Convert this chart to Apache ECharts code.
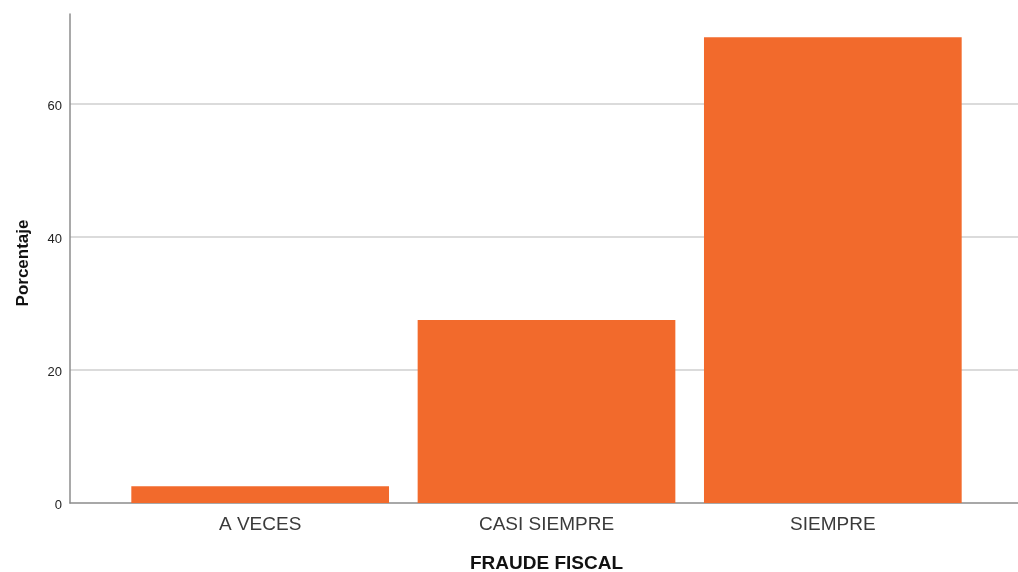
<!DOCTYPE html>
<html>
<head>
<meta charset="utf-8">
<script src="https://cdn.jsdelivr.net/npm/echarts@6/dist/echarts.min.js"></script>
<style>html,body{margin:0;padding:0;background:#fff}#c{width:1018px;height:572px}</style>
</head>
<body>
<div id="c"></div>
<script>
const categories = ['A VECES', 'CASI SIEMPRE', 'SIEMPRE'];
const porcentaje = [2.5, 27.5, 70.0];
const yMin = 0, yMax = 73.5, yStep = 20;
const xTitle = 'FRAUDE FISCAL';
const yTitle = 'Porcentaje';

const chart = echarts.init(document.getElementById('c'), null, {renderer: 'canvas'});
const font = 'Arial, "Liberation Sans", sans-serif';
chart.setOption({
  animation: false,
  grid: [
    {left: 70, right: 0, top: 14, bottom: 69, outerBoundsMode: 'none', containLabel: false},
    {left: 117, right: 42, top: 14, bottom: 69, outerBoundsMode: 'none', containLabel: false}
  ],
  graphic: [{
    type: 'text', x: 23, y: 263, rotation: Math.PI / 2,
    style: {text: yTitle, fontFamily: font, fontSize: 17, fontWeight: 'bold', fill: '#111',
            align: 'center', verticalAlign: 'middle'}
  }],
  xAxis: [
    {gridIndex: 0, type: 'value', min: 0, max: 1, axisLine: {show: true, lineStyle: {color: '#8c8c8c', width: 1.5}},
     axisTick: {show: false}, axisLabel: {show: false}, splitLine: {show: false}},
    {gridIndex: 1, type: 'category', data: categories, boundaryGap: true,
     axisLine: {show: false}, axisTick: {show: false},
     axisLabel: {margin: 12, fontFamily: font, fontSize: 19, color: '#3a3a3a'},
     name: xTitle, nameLocation: 'middle', nameGap: 51,
     nameTextStyle: {fontFamily: font, fontSize: 19, fontWeight: 'bold', color: '#111'}}
  ],
  yAxis: [
    {gridIndex: 0, type: 'value', min: yMin, max: yMax, interval: yStep,
     axisLine: {show: true, lineStyle: {color: '#8c8c8c', width: 1.5}}, axisTick: {show: false},
     axisLabel: {margin: 8, fontFamily: font, fontSize: 13, color: '#222', showMaxLabel: false,
       formatter: v => (v % yStep === 0 ? '{t|' + v + '}' : ''),
       rich: {t: {fontFamily: font, fontSize: 13, color: '#222', padding: [5, 0, 0, 0]}}},
     splitLine: {show: true, showMaxLine: false, showMinLine: false, lineStyle: {color: '#cfcfcf', width: 1.5}}},
    {gridIndex: 1, type: 'value', min: yMin, max: yMax, interval: yStep, show: false, splitLine: {show: false}}
  ],
  series: [{
    type: 'bar', xAxisIndex: 1, yAxisIndex: 1, data: porcentaje, barWidth: '90%',
    itemStyle: {color: '#F26A2C'}
  }]
});
</script>
</body>
</html>
